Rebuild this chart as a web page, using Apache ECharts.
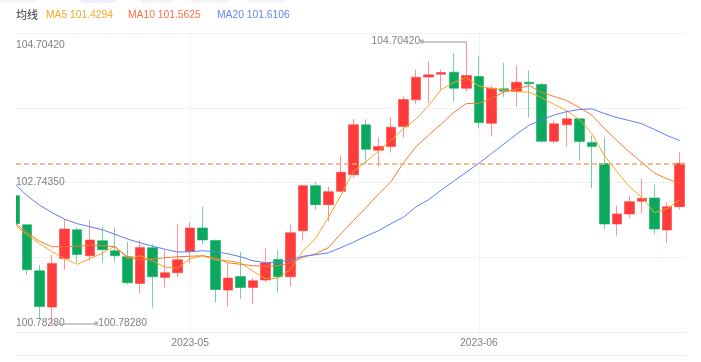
<!DOCTYPE html>
<html>
<head>
<meta charset="utf-8">
<script src="https://cdn.jsdelivr.net/npm/echarts@6/dist/echarts.min.js"></script>
<style>
html,body{margin:0;padding:0;background:#fff;}
#chart{width:701px;height:362px;}
</style>
</head>
<body>
<div id="chart"></div>
<script>
// ---- data ----
const opens = [102.5605,102.1568,101.5165,101.0112,101.6877,102.0872,101.7253,101.9341,101.7949,101.7114,
  101.3397,101.8367,101.4233,101.4887,101.7852,102.1109,101.9383,101.2479,101.4372,101.2841,
  101.3871,101.6738,101.4330,102.0733,102.6997,102.4352,102.6204,102.8528,103.5447,103.1911,
  103.2426,103.5210,103.8927,104.2100,104.2476,104.2769,104.0541,104.2170,103.5669,104.0458,
  104.0082,104.1377,104.1056,103.3164,103.5447,103.6282,103.2983,103.0060,102.1666,102.3058,
  102.4812,102.5285,102.0831,102.4074];
const closes = [102.1708,101.5304,101.0196,101.6181,102.0970,101.7434,101.9439,101.8088,101.7253,101.3495,
  101.8409,101.4330,101.4887,101.6696,102.1109,101.9439,101.2562,101.4149,101.2841,101.3773,
  101.6237,101.4330,102.0455,102.6997,102.4352,102.6162,102.8849,103.5447,103.2050,103.2426,
  103.5113,103.8968,104.2073,104.2407,104.2727,104.0541,104.2309,103.5767,104.0541,104.0124,
  104.1377,104.1154,103.3164,103.5586,103.6282,103.3122,103.2426,102.1666,102.3072,102.4770,
  102.5229,102.0970,102.4074,103.0101];
const lows = [102.1568,101.4567,100.8442,100.7828,101.5304,101.6321,101.6557,101.6321,101.6460,101.3258,
  101.2005,101.0057,101.2841,101.4233,101.6181,101.8882,101.0753,101.0154,101.1226,101.0530,
  101.3537,101.2145,101.2980,101.9341,102.3656,102.2028,102.6065,102.8069,103.0018,102.9642,
  103.1633,103.3679,103.8370,103.8453,104.0360,103.8732,104.0124,103.4932,103.3818,103.9289,
  103.7994,103.6505,103.2983,103.2885,103.2426,103.0477,102.6621,102.0914,102.0037,102.2501,
  102.3169,102.0246,101.8993,102.3698];
const highs = [102.5744,102.1568,101.5959,101.7392,102.2362,102.1193,102.2264,102.1290,102.1193,101.9202,
  101.9439,101.8882,101.8047,102.1708,102.1889,102.4074,101.9383,101.6321,101.7810,101.4233,
  101.8325,101.8047,102.1568,102.7136,102.7554,102.6858,103.1173,103.6282,103.6226,103.3721,
  103.6505,103.9386,104.3103,104.4258,104.3103,104.5413,104.7042,104.5093,104.0917,104.4077,
  104.3701,104.3005,104.1293,103.6045,103.7437,103.6282,103.3957,103.3776,102.4255,102.5605,
  102.7930,102.7136,102.4673,103.1633];
const ma5 = [102.1568,102.0176,101.8923,101.7810,101.6835,101.6070,101.6835,101.7601,101.8575,101.6905,
  101.7253,101.6557,101.5652,101.5541,101.6835,101.7253,101.6696,101.6557,101.6279,101.5095,
  101.4051,101.4121,101.5374,101.7949,101.9689,102.2543,102.5605,102.8946,103.0338,103.1799,
  103.3331,103.4931,103.6254,103.8133,104.0360,104.1335,104.2031,104.0847,104.0499,104.0291,
  104.0082,103.9984,103.9247,103.8272,103.7437,103.6184,103.4235,103.1173,102.8946,102.6858,
  102.5327,102.3239,102.3795,102.5048];
const ma10 = [102.1847,102.0455,101.9271,101.8506,101.8506,101.8575,101.8715,101.8645,101.8506,101.7114,
  101.6654,101.6794,101.6975,101.7114,101.7183,101.7253,101.6975,101.6279,101.6070,101.5861,
  101.5791,101.5861,101.6279,101.7044,101.7531,101.8367,102.0315,102.2125,102.3935,102.5814,
  102.7554,103.0199,103.2426,103.4027,103.5558,103.7159,103.8411,103.8453,103.9107,104.0012,
  104.0430,104.0917,103.9943,103.9386,103.8829,103.7855,103.6811,103.4931,103.3261,103.1660,
  103.0199,102.8737,102.7930,102.7317];
const ma20 = [102.7275,102.5605,102.4283,102.3239,102.2334,102.1707,102.1290,102.0872,102.0246,101.9578,
  101.9063,101.8575,101.8158,101.7768,101.7810,101.7949,101.7810,101.7531,101.7114,101.6557,
  101.6279,101.6320,101.6696,101.7183,101.7392,101.7671,101.8367,101.9132,101.9967,102.0733,
  102.1707,102.2612,102.4074,102.5048,102.6371,102.7623,102.8876,103.0101,103.1451,103.2802,
  103.4166,103.5391,103.6184,103.6811,103.7298,103.7576,103.7674,103.7019,103.6463,103.6045,
  103.5586,103.4792,103.3957,103.3261];
const monthTickIndex = [14, 37];
const monthTickLabels = ['2023-05', '2023-06'];
const legendTitle = '均线';
const maNames = ['MA5', 'MA10', 'MA20'];
const maLegendValues = ['101.4294', '101.5625', '101.6106'];

// ---- derived ----
const hi = Math.max(...highs);
const lo = Math.min(...lows);
const hiIdx = highs.indexOf(hi);
const loIdx = lows.indexOf(lo);
const lastClose = closes[closes.length - 1];
const pad = (hi - lo) * 0.03;
const yMin = lo - pad, yMax = hi + pad;
const yStep = (yMax - yMin) / 4;
const ySplits = [0, 1, 2, 3, 4].map(k => yMin + k * yStep);
const viewStart = 0.124;           // left part of the first candle is cut off by the view
const viewEnd = opens.length - 0.5;
const annOffset = 3.52;            // horizontal length of the max/min annotation lines (in candles)

const UP = '#FF3B3B', DOWN = '#0BA95E';
const C5 = '#F5A623', C10 = '#F47A35', C20 = '#5F7EF2';
const LBL = '#808080';
const FONT = "'Liberation Sans', 'Noto Sans CJK SC', sans-serif";

const GRID = { left: 16, right: 15, top: 33, bottom: 30 };

const candleData = opens.map((o, i) => [i, o, closes[i], lows[i], highs[i]]);
const toXY = arr => arr.map((v, i) => [i, v]);

const chart = echarts.init(document.getElementById('chart'));
chart.setOption({
  animation: false,
  backgroundColor: '#fff',
  textStyle: { fontFamily: FONT },
  title: [
    { text: legendTitle, left: 16, top: 9, padding: 0,
      textStyle: { fontSize: 11, color: '#333', fontWeight: 'normal', fontFamily: "'Noto Sans CJK SC', sans-serif" } },
    { text: maNames[0] + ' ' + maLegendValues[0], left: 46, top: 10, padding: 0,
      textStyle: { fontSize: 10.3, color: C5, fontWeight: 'normal', fontFamily: FONT } },
    { text: maNames[1] + ' ' + maLegendValues[1], left: 128, top: 10, padding: 0,
      textStyle: { fontSize: 10.3, color: '#F8704B', fontWeight: 'normal', fontFamily: FONT } },
    { text: maNames[2] + ' ' + maLegendValues[2], left: 217, top: 10, padding: 0,
      textStyle: { fontSize: 10.3, color: '#6683F2', fontWeight: 'normal', fontFamily: FONT } }
  ],
  graphic: [
    { type: 'rect', shape: { x: -6, y: -20, width: 43, height: 23, r: 4 }, style: { fill: '#f4f4f4' }, silent: true },
    { type: 'rect', shape: { x: 80, y: -20, width: 37, height: 23, r: 4 }, style: { fill: '#eef1fb' }, silent: true },
    { type: 'rect', shape: { x: 140, y: -20, width: 34, height: 23, r: 4 }, style: { fill: '#f4f4f4' }, silent: true },
    { type: 'rect', shape: { x: 190, y: -20, width: 40, height: 23, r: 4 }, style: { fill: '#f4f4f4' }, silent: true },
    { type: 'rect', shape: { x: 247, y: -20, width: 38, height: 23, r: 4 }, style: { fill: '#f4f4f4' }, silent: true },
    // mask the part of the view left of the plot area (the cut-off first candle)
    { type: 'rect', z: 100, shape: { x: 0, y: GRID.top, width: GRID.left, height: 362 - GRID.top - GRID.bottom }, style: { fill: '#fff' }, silent: true },
    { type: 'line', shape: { x1: 16, y1: 355.5, x2: 686, y2: 355.5 }, style: { stroke: '#eeeeee', lineWidth: 1 }, silent: true }
  ],
  grid: { left: GRID.left, right: GRID.right, top: GRID.top, bottom: GRID.bottom, containLabel: false },
  xAxis: {
    type: 'value',
    min: viewStart,
    max: viewEnd,
    axisLine: { show: true, lineStyle: { color: '#eeeeee' } },
    axisTick: { show: false, customValues: monthTickIndex },
    splitLine: { show: true, lineStyle: { color: '#f2f2f2' } },
    axisLabel: {
      customValues: monthTickIndex,
      formatter: v => monthTickLabels[monthTickIndex.indexOf(Math.round(v))] || '',
      color: LBL, fontSize: 10.3, margin: 6, fontFamily: FONT
    }
  },
  yAxis: {
    type: 'value',
    min: yMin,
    max: yMax,
    axisLine: { show: false },
    axisTick: { show: false, customValues: ySplits },
    splitLine: { show: true, lineStyle: { color: '#f2f2f2' } },
    axisLabel: {
      inside: true,
      margin: 0,
      customValues: [lo, (lo + hi) / 2, hi],
      color: LBL, fontSize: 10.3, fontFamily: FONT,
      verticalAlign: 'middle',
      formatter: v => {
        const s = v.toFixed(5);
        return Math.abs(v - hi) < 1e-7 ? '{t|' + s + '}' : s;
      },
      rich: { t: { padding: [7, 0, 0, 0], color: LBL, fontSize: 10.3, fontFamily: FONT } }
    }
  },
  series: [
    {
      type: 'candlestick',
      clip: true,
      data: candleData,
      encode: { x: 0, y: [1, 2, 3, 4] },
      barWidth: 10,
      itemStyle: {
        color: UP, color0: DOWN,
        borderColor: 'rgba(255,59,59,0.55)', borderColor0: 'rgba(11,169,94,0.55)',
        borderWidth: 1
      },
      markLine: {
        silent: true,
        symbol: ['none', 'rect'],
        symbolSize: 4,
        animation: false,
        data: [
          [
            { coord: [hiIdx, hi] },
            { coord: [hiIdx - annOffset, hi],
              lineStyle: { color: '#b8b8b8', width: 1.5, type: 'solid' },
              itemStyle: { color: '#9a9a9a' },
              label: { show: true, position: 'end', distance: 2, formatter: hi.toFixed(5), color: LBL, fontSize: 10.3, fontFamily: FONT } }
          ],
          [
            { coord: [loIdx, lo] },
            { coord: [loIdx + annOffset, lo],
              lineStyle: { color: '#b8b8b8', width: 1.5, type: 'solid' },
              itemStyle: { color: '#9a9a9a' },
              label: { show: true, position: 'end', distance: 2, formatter: lo.toFixed(5), color: LBL, fontSize: 10.3, fontFamily: FONT } }
          ]
        ]
      }
    },
    { type: 'line', name: 'MA5', data: toXY(ma5), showSymbol: false, smooth: false, clip: true,
      lineStyle: { color: C5, width: 1 }, itemStyle: { color: C5 }, z: 3 },
    { type: 'line', name: 'MA10', data: toXY(ma10), showSymbol: false, smooth: false, clip: true,
      lineStyle: { color: C10, width: 1 }, itemStyle: { color: C10 }, z: 3 },
    { type: 'line', name: 'MA20', data: toXY(ma20), showSymbol: false, smooth: false, clip: true,
      lineStyle: { color: C20, width: 1 }, itemStyle: { color: C20 }, z: 3,
      markLine: {
        silent: true,
        symbol: ['none', 'none'],
        symbolSize: 0,
        animation: false,
        label: { show: false },
        lineStyle: { color: '#F8A56E', width: 1.5, type: [5, 3] },
        data: [{ yAxis: lastClose }]
      }
    }
  ]
});
</script>
</body>
</html>
